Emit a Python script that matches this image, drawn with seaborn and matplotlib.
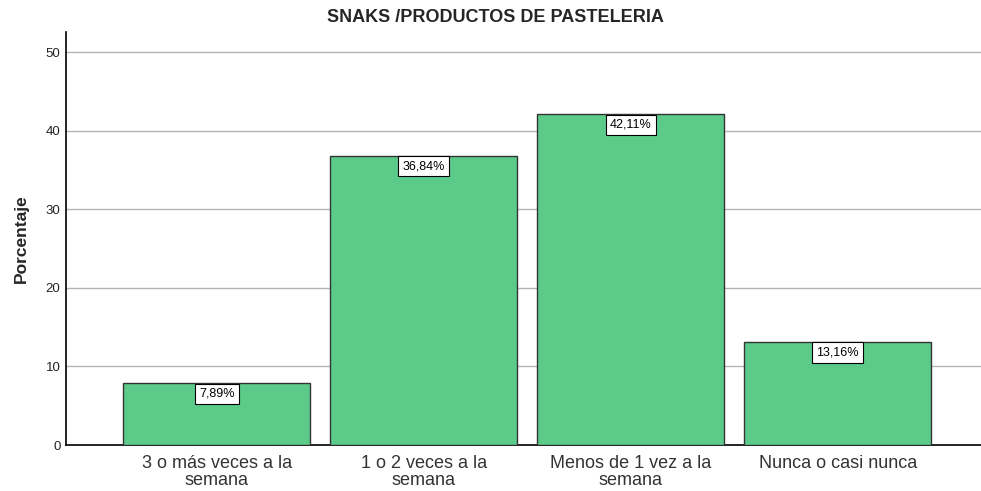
import matplotlib
matplotlib.use("Agg")
import matplotlib.pyplot as plt
import seaborn as sns
import pandas as pd

categories = ["3 o más veces a la\nsemana", "1 o 2 veces a la\nsemana",
              "Menos de 1 vez a la\nsemana", "Nunca o casi nunca"]
values = [7.89, 36.84, 42.11, 13.16]
value_labels = ["7,89%", "36,84%", "42,11%", "13,16%"]
yticks = [0, 10, 20, 30, 40, 50]

sns.set_style("white")
plt.rcParams['font.family'] = ['Liberation Sans', 'DejaVu Sans']

df = pd.DataFrame({"cat": categories, "val": values})

fig = plt.figure(figsize=(9.81, 4.91), dpi=100)
ax = fig.add_axes([66/981, 1-445/491, 1-66/981, (445-31.7)/491])

sns.barplot(data=df, x="cat", y="val", ax=ax, color="#5ccb8a", width=0.902,
            edgecolor="#333333", linewidth=1, saturation=1, zorder=3)

ax.set_ylim(0, 52.6)
ax.set_xlim(-0.728, 3.692)
ax.set_yticks(yticks)
ax.set_yticklabels([str(t) for t in yticks], fontsize=9.5, color="#222222")
ax.yaxis.grid(True, color="#b4b4b4", linewidth=1, zorder=0)
ax.xaxis.grid(False)
ax.tick_params(axis="y", length=0, pad=4)
ax.tick_params(axis="x", length=0, labelsize=13, colors="#333333", pad=7.5)
for lbl in ax.get_xticklabels():
    lbl.set_linespacing(0.95)
ax.set_xlabel("")
ax.set_ylabel("Porcentaje", fontsize=12.5, fontweight="bold", labelpad=12)
for s in ["top", "right"]:
    ax.spines[s].set_visible(False)
for s in ["left", "bottom"]:
    ax.spines[s].set_color("black")
    ax.spines[s].set_linewidth(1.2)

for i, (v, t) in enumerate(zip(values, value_labels)):
    ax.annotate(t, xy=(i, v), xytext=(0, -7.8), textcoords="offset points",
                ha="center", va="center", fontsize=9, color="black", zorder=5,
                bbox=dict(boxstyle="square,pad=0.33", fc="white", ec="black", lw=0.8))

fig.text(0.505, 1-18/491, "SNAKS /PRODUCTOS DE PASTELERIA", ha="center", va="center",
         fontsize=13, fontweight="bold")

fig.savefig("out.png", dpi=100)
